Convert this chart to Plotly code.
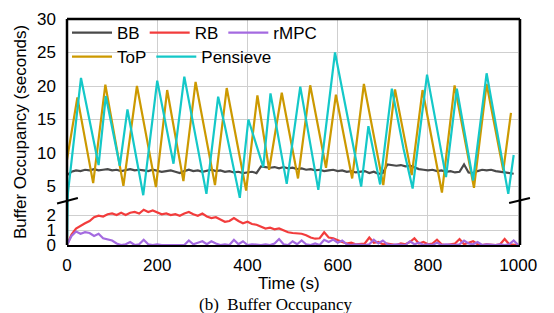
import plotly.graph_objects as go

# ---------------- data ----------------
t10 = list(range(0, 1001, 10))

bb_t = list(range(0, 991, 10))
bb = [6.7, 7.2, 7.4, 7.3, 7.5, 7.4, 7.6, 7.4, 7.5, 7.6,
      7.4, 7.5, 7.3, 7.5, 7.6, 7.4, 7.5, 7.4, 7.3, 7.5,
      7.4, 7.2, 7.3, 7.4, 7.2, 7.0, 7.3, 7.5, 7.3, 7.4,
      7.2, 7.3, 7.5, 7.3, 7.4, 7.2, 7.3, 7.1, 7.2, 7.0,
      7.1, 7.2, 7.0, 8.0, 7.9, 7.8, 7.9, 7.7, 7.9, 7.7,
      7.8, 7.6, 7.7, 7.5, 7.6, 7.4, 7.5, 7.3, 7.4, 7.5,
      7.3, 7.4, 7.2, 7.3, 7.1, 7.2, 7.3, 7.0, 7.2, 6.9,
      7.0, 8.3, 8.2, 8.1, 8.2, 8.0, 8.1, 7.8, 7.6, 7.5,
      7.4, 7.5, 7.3, 7.4, 7.2, 7.3, 7.1, 7.2, 8.3, 7.1,
      7.0, 7.3, 7.5, 7.4, 7.5, 7.3, 7.2, 7.1, 7.0, 6.9]

rb = [0.0, 0.7, 1.1, 1.3, 1.45, 1.6, 1.85, 1.95, 1.9, 2.05,
      2.1, 2.0, 2.15, 2.0, 2.15, 2.2, 2.1, 2.35, 2.2, 2.3,
      2.15, 2.05, 2.1, 2.0, 2.05, 1.95, 2.1, 2.2, 2.05, 1.95,
      2.1, 1.9, 1.8, 1.85, 1.7, 1.55, 1.6, 1.8, 1.6, 1.45,
      1.55, 1.4, 1.35, 1.2, 1.1, 1.15, 1.05, 1.1, 0.95, 0.85,
      0.8, 0.8, 0.75, 0.65, 0.5, 0.42, 0.45, 0.85, 0.5, 0.45,
      0.3, 0.2, 0.1, 0.15, 0.05, 0.05, 0.1, 0.5, 0.15, 0.2,
      0.05, 0.1, 0.05, 0.0, 0.1, 0.05, 0.2, 0.45, 0.1, 0.2,
      0.05, 0.1, 0.35, 0.05, 0.0, 0.05, 0.1, 0.4, 0.05, 0.15,
      0.25, 0.05, 0.0, 0.05, 0.0, 0.0, 0.05, 0.4, 0.05, 0.0, 0.0]

rmpc = [0.0, 0.6, 0.9, 0.75, 0.85, 0.8, 0.6, 0.75, 0.45, 0.35,
        0.3, 0.1, 0.0, 0.05, 0.2, 0.0, 0.05, 0.35, 0.05, 0.0,
        0.05, 0.0, 0.0, 0.05, 0.0, 0.05, 0.0, 0.3, 0.05, 0.15,
        0.25, 0.05, 0.25, 0.1, 0.0, 0.05, 0.0, 0.35, 0.05, 0.25,
        0.0, 0.05, 0.0, 0.0, 0.05, 0.0, 0.1, 0.4, 0.05, 0.0,
        0.25, 0.05, 0.3, 0.05, 0.0, 0.1, 0.0, 0.35, 0.2, 0.36,
        0.15, 0.3, 0.05, 0.0, 0.05, 0.0, 0.0, 0.05, 0.35, 0.1,
        0.3, 0.05, 0.0, 0.05, 0.0, 0.0, 0.25, 0.05, 0.15, 0.0,
        0.05, 0.0, 0.15, 0.0, 0.05, 0.0, 0.0, 0.05, 0.3, 0.1,
        0.05, 0.2, 0.0, 0.05, 0.0, 0.0, 0.05, 0.0, 0.05, 0.3, 0.0]

top_t = [0, 23, 58, 85, 125, 155, 197, 222, 258, 285, 328, 354, 397, 422,
         448, 476, 512, 539, 574, 596, 632, 658, 701, 727, 764, 788, 831,
         859, 902, 930, 967, 984]
top = [9.0, 18.3, 5.5, 20.2, 5.1, 20.0, 4.9, 19.4, 5.8, 20.6, 5.2, 19.7, 4.4,
       18.6, 7.5, 19.0, 6.2, 20.1, 7.8, 18.7, 6.2, 20.3, 5.2, 19.5, 6.7,
       19.4, 4.1, 20.1, 4.8, 20.3, 7.4, 16.0]

pen_t = [0, 2, 31, 70, 86, 117, 134, 169, 200, 236, 260, 309, 335, 350, 383,
         402, 435, 451, 487, 517, 557, 594, 652, 668, 694, 720, 746, 766,
         798, 840, 864, 900, 930, 978, 990]
pen = [0.0, 4.0, 21.2, 8.2, 18.5, 8.1, 16.5, 3.7, 20.8, 8.4, 21.4, 3.9, 18.4,
       14.0, 3.3, 15.0, 7.9, 18.9, 5.4, 19.9, 4.5, 25.0, 5.0, 14.0, 5.3,
       19.6, 10.6, 4.7, 21.7, 6.4, 19.6, 5.9, 21.9, 3.9, 9.7]

series = [
    ("BB", bb_t, bb, "#4a4a4a", "legend"),
    ("RB", t10, rb, "#f23c3c", "legend"),
    ("rMPC", t10, rmpc, "#a46ae0", "legend"),
    ("ToP", top_t, top, "#cc9900", "legend2"),
    ("Pensieve", pen_t, pen, "#14c8c8", "legend2"),
]

x_ticks = [0, 200, 400, 600, 800, 1000]
y_top_ticks = [5, 10, 15, 20, 25, 30]
y_low_ticks = [0, 1, 2]

# ---------------- figure ----------------
fig = go.Figure()
for name, xs, ys, col, lg in series:
    for ax_x, ax_y, show in (("x", "y", False), ("x2", "y2", True)):
        fig.add_trace(go.Scatter(x=xs, y=ys, mode="lines", name=name,
                                 line=dict(color=col, width=2.2),
                                 xaxis=ax_x, yaxis=ax_y, showlegend=show,
                                 legend=lg, hoverinfo="skip"))

FONT = "Liberation Sans, Arial, sans-serif"
split = 44 / 226

grid = "#cfcfcf"
leg_common = dict(orientation="h", xanchor="left", yanchor="top",
                  bgcolor="rgba(0,0,0,0)", borderwidth=0,
                  font=dict(size=17), itemwidth=40)
# page body has an 8px default margin, so the figure is 8px smaller
fig.update_layout(
    width=546, height=305,
    margin=dict(l=59, r=34, t=11, b=68, autoexpand=False),
    paper_bgcolor="white", plot_bgcolor="white",
    font=dict(family=FONT, size=17, color="black"),
    xaxis=dict(domain=[0, 1], range=[0, 1004], tickvals=x_ticks,
               showgrid=True, gridcolor=grid, gridwidth=1,
               showline=True, linecolor="black", linewidth=2,
               layer="below traces", ticks="", ticklabelstandoff=4,
               ticklabeloverflow="allow",
               zeroline=False, anchor="y", automargin=False),
    xaxis2=dict(domain=[0, 1], range=[0, 1004], tickvals=x_ticks,
                matches="x", showticklabels=False, showgrid=True,
                gridcolor=grid, gridwidth=1, zeroline=False, anchor="y2",
                layer="below traces", automargin=False),
    yaxis=dict(domain=[0, split], range=[0, 44 / 15], tickvals=y_low_ticks,
               showgrid=True, gridcolor=grid, gridwidth=1, zeroline=False,
               ticks="", ticklabelstandoff=10, ticklabeloverflow="allow",
               anchor="x", automargin=False),
    yaxis2=dict(domain=[split, 1], range=[5 - 14.5 / 6.7, 30],
                tickvals=y_top_ticks, showgrid=True, gridcolor=grid,
                gridwidth=1, zeroline=False, ticks="", ticklabelstandoff=10,
                ticklabeloverflow="allow", anchor="x2", automargin=False),
    legend=dict(x=0, y=1 + 4 / 226, **leg_common),
    legend2=dict(x=0, y=1 - 20 / 226, **leg_common),
    showlegend=True,
)

# frame
border = dict(color="black", width=2.5)
fig.add_shape(type="line", xref="paper", yref="paper", x0=0, x1=0, y0=0, y1=1, line=border, layer="above")
fig.add_shape(type="line", xref="paper", yref="paper", x0=1, x1=1, y0=0, y1=1, line=border, layer="above")
fig.add_shape(type="line", xref="paper", yref="paper", x0=0, x1=1, y0=1, y1=1, line=border, layer="above")
# axis-break marks
brk = dict(color="black", width=2)
fig.add_shape(type="line", xref="paper", yref="paper", x0=-0.022, y0=0.184, x1=0.024, y1=0.208, line=brk, layer="above")
fig.add_shape(type="line", xref="paper", yref="paper", x0=0.976, y0=0.186, x1=1.022, y1=0.208, line=brk, layer="above")

# titles
fig.add_annotation(text="Time (s)", xref="paper", yref="paper", x=0.49, y=-38.5 / 226,
                   showarrow=False, xanchor="center", yanchor="middle",
                   font=dict(size=17, family=FONT))
fig.add_annotation(text="(b)  Buffer Occupancy", xref="paper", yref="paper",
                   x=0.4614, y=-59 / 226, showarrow=False, xanchor="center",
                   yanchor="middle",
                   font=dict(size=17, family="Liberation Serif, Times New Roman, serif"))
fig.add_annotation(text="Buffer Occupancy (seconds)", xref="paper", yref="paper",
                   x=-0.1038, y=0.5, textangle=-90, showarrow=False,
                   xanchor="center", yanchor="middle", font=dict(size=17, family=FONT))

fig.write_html("out.html")
